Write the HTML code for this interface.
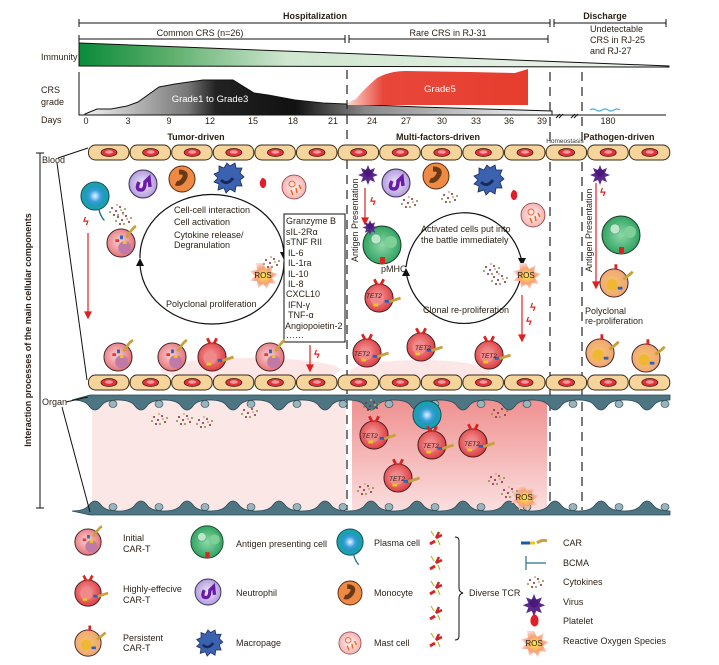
<!DOCTYPE html>
<html><head><meta charset="utf-8">
<style>
html,body{margin:0;padding:0;background:#fff;}
svg{display:block;font-family:"Liberation Sans",Arial,sans-serif;}
.t{font-size:9px;fill:#2a1f14;}
.b{font-weight:bold;}
</style></head>
<body>
<svg id="s" width="719" height="665" viewBox="0 0 719 665" xmlns="http://www.w3.org/2000/svg">
<defs>
<linearGradient id="gImm" x1="0" x2="1" y1="0" y2="0">
<stop offset="0" stop-color="#0a8a3a"/><stop offset="0.15" stop-color="#5aae6a"/><stop offset="0.35" stop-color="#cfe6cf"/><stop offset="1" stop-color="#eef6ee"/></linearGradient>
<linearGradient id="gGray" x1="0" x2="1" y1="0" y2="0">
<stop offset="0" stop-color="#f2f2f2"/><stop offset="0.22" stop-color="#777"/><stop offset="0.28" stop-color="#222"/><stop offset="0.45" stop-color="#111"/><stop offset="0.6" stop-color="#888"/><stop offset="1" stop-color="#fafafa"/></linearGradient>
<linearGradient id="gRed" x1="0" x2="1" y1="0" y2="0">
<stop offset="0" stop-color="#fbd9d2"/><stop offset="0.2" stop-color="#e8473a"/><stop offset="1" stop-color="#e63d2e"/></linearGradient>
<linearGradient id="gOrg2" x1="0" x2="0" y1="0" y2="1">
<stop offset="0" stop-color="#ef8f8f"/><stop offset="1" stop-color="#fbdede"/></linearGradient>
<radialGradient id="gCar" cx="0.45" cy="0.45" r="0.6"><stop offset="0" stop-color="#fbd0d0"/><stop offset="1" stop-color="#e06a72"/></radialGradient>
<radialGradient id="gHi" cx="0.45" cy="0.45" r="0.6"><stop offset="0" stop-color="#f9a0a0"/><stop offset="1" stop-color="#d9363a"/></radialGradient>
<radialGradient id="gPer" cx="0.45" cy="0.5" r="0.6"><stop offset="0" stop-color="#f6c56a"/><stop offset="1" stop-color="#eea177"/></radialGradient>
<radialGradient id="gApc" cx="0.5" cy="0.5" r="0.6"><stop offset="0" stop-color="#8ed8a8"/><stop offset="1" stop-color="#1e9a55"/></radialGradient>
<radialGradient id="gPl" cx="0.5" cy="0.5" r="0.6"><stop offset="0" stop-color="#e8f6ff"/><stop offset="0.5" stop-color="#3aa0e0"/><stop offset="1" stop-color="#1a8fa6"/></radialGradient>
<radialGradient id="gNeu" cx="0.5" cy="0.5" r="0.6"><stop offset="0" stop-color="#f0e8fa"/><stop offset="1" stop-color="#a68ed6"/></radialGradient>
<radialGradient id="gMast" cx="0.5" cy="0.5" r="0.6"><stop offset="0" stop-color="#fff4f2"/><stop offset="1" stop-color="#f2a6a6"/></radialGradient>
<radialGradient id="gRos" cx="0.5" cy="0.5" r="0.5"><stop offset="0" stop-color="#ffe840"/><stop offset="0.6" stop-color="#f6a07a"/><stop offset="1" stop-color="#fbd6d0"/></radialGradient>
<symbol id="car" viewBox="-16 -16 32 32" overflow="visible"><circle r="15" fill="url(#gCar)" stroke="#3a1a1a" stroke-width="1"/><circle cx="4" cy="5" r="7" fill="#c07aa8"/><rect x="-6" y="-4" width="4" height="3" fill="#e33"/><rect x="-1" y="-8" width="3" height="4" fill="#2f5fb8"/><rect x="2" y="-2" width="4" height="3" fill="#e8c81e"/><path d="M6 -6 q6 -10 10 -12" stroke="#c9a03a" stroke-width="3" fill="none"/></symbol>
<symbol id="hi" viewBox="-16 -16 32 32" overflow="visible"><circle r="15" fill="url(#gHi)" stroke="#3a1a1a" stroke-width="1"/><circle cx="-2" cy="1" r="7" fill="#f08a8a"/><path d="M-2 -14 l-3 -6 M2 -14 l3 -6" stroke="#d22" stroke-width="3"/><rect x="6" y="2" width="5" height="3" fill="#2f5fb8"/><rect x="-6" y="6" width="5" height="3" fill="#e8c81e"/><path d="M11 4 q6 -2 12 -4" stroke="#c9a03a" stroke-width="3" fill="none"/></symbol>
<symbol id="per" viewBox="-16 -16 32 32" overflow="visible"><circle r="15" fill="url(#gPer)" stroke="#3a1a1a" stroke-width="1"/><circle cx="-2" cy="2" r="6" fill="#f0b830"/><path d="M2 -14 l0 -6" stroke="#d22" stroke-width="3"/><rect x="4" y="4" width="5" height="3" fill="#2f5fb8"/><path d="M10 -4 q6 -4 10 -8" stroke="#c9a03a" stroke-width="3" fill="none"/></symbol>
<symbol id="apc" viewBox="-20 -20 40 40" overflow="visible"><circle r="19" fill="url(#gApc)" stroke="#1a3a22" stroke-width="1"/><circle cx="-6" cy="-6" r="5" fill="#bfe6cc" stroke="#4a6" stroke-width=".6"/><circle cx="9" cy="-3" r="6" fill="#7ecf98"/><rect x="-2" y="12" width="5" height="7" fill="#d22"/></symbol>
<symbol id="pla" viewBox="-16 -16 32 32" overflow="visible"><circle r="15" fill="#1aa0b0" stroke="#145" stroke-width="1"/><circle r="10" fill="url(#gPl)"/><path d="M4 14 q2 8 6 12" stroke="#1a6f88" stroke-width="1.5" fill="none"/></symbol>
<symbol id="neu" viewBox="-14 -14 28 28" overflow="visible"><circle r="14" fill="url(#gNeu)" stroke="#3a2a5a" stroke-width="1"/><path d="M-4 -2 q-4 8 2 8 q4 0 4 -8 l4 -4 l1 9" stroke="#6a1aa8" stroke-width="3.5" fill="none"/></symbol>
<symbol id="mono" viewBox="-13 -13 26 26" overflow="visible"><circle r="13" fill="#ee8a44" stroke="#5a2a10" stroke-width="1"/><path d="M-3 -7 q9 0 5 7 q-4 6 -8 4" stroke="#6a3a16" stroke-width="5" fill="none"/></symbol>
<symbol id="mac" viewBox="-16 -16 32 32" overflow="visible"><path d="M0 -15 l3 3 l5 -3 l1 5 l6 0 l-2 5 l4 4 l-4 3 l2 6 l-6 0 l-1 6 l-5 -3 l-4 4 l-2 -5 l-6 2 l1 -6 l-5 -2 l4 -4 l-4 -4 l5 -2 l0 -6 l5 2z" fill="#3a62b0" stroke="#1a2a58" stroke-width=".8"/><path d="M-6 2 q6 6 12 -2" stroke="#1a2a58" stroke-width="3" fill="none"/></symbol>
<symbol id="mast" viewBox="-13 -13 26 26" overflow="visible"><circle r="12" fill="url(#gMast)" stroke="#8a3a3a" stroke-width=".8"/><circle cx="-2" cy="-3" r="3" fill="none" stroke="#e86a3a"/><path d="M-3 3 l2 5 M2 1 l1 5 M5 -2 l2 4" stroke="#e86a1a" stroke-width="1.5"/></symbol>
<symbol id="vir" viewBox="-8 -8 16 16" overflow="visible"><path d="M0 -8 l2 5 l5 -2 l-2 5 l5 2 l-5 2 l2 5 l-5 -2 l-2 5 l-2 -5 l-5 2 l2 -5 l-5 -2 l5 -2 l-2 -5 l5 2z" fill="#5a2a8a"/><circle r="4" fill="#4a1a7a"/></symbol>
<symbol id="ros" viewBox="-14 -12 28 24" overflow="visible"><path d="M0 -12 l3 6 l7 -4 l-2 7 l7 2 l-6 4 l4 6 l-7 -1 l-2 6 l-4 -5 l-5 4 l-1 -7 l-7 0 l5 -5 l-5 -5 l7 -1 l-1 -7z" fill="url(#gRos)"/><text x="0" y="3" font-size="8" text-anchor="middle" fill="#222" font-family="Liberation Sans">ROS</text></symbol>
<symbol id="cyt" viewBox="-10 -8 20 16" overflow="visible"><g fill="#8a2a3a"><circle cx="-6" cy="-3" r="1"/><circle cx="-2" cy="0" r="1"/><circle cx="2" cy="-4" r="1"/><circle cx="5" cy="2" r="1"/><circle cx="-4" cy="4" r="1"/></g><g fill="#7a9a3a"><circle cx="0" cy="4" r="1"/><circle cx="7" cy="-2" r="1"/><circle cx="-8" cy="1" r="1"/></g><g fill="#c8b080"><circle cx="3" cy="-1" r="1"/><circle cx="-1" cy="-6" r="1"/></g></symbol>
<symbol id="tcr" viewBox="-8 -8 16 16" overflow="visible"><path d="M-6 6 l5 -3" stroke="#d22" stroke-width="3"/><path d="M0 0 l3 -6 M0 0 l6 -3" stroke="#c8282a" stroke-width="2.5"/><path d="M-2 -2 l-3 -5 M2 2 l2 5" stroke="#b9b92a" stroke-width="1.2"/></symbol>
</defs>

<!-- top brackets -->
<g stroke="#111" stroke-width="1" fill="none">
<path d="M79 23 H550 M79 19 v8 M550 19 v8 M554 23 H666 M554 19 v8 M666 19 v8"/>
<path d="M79 39 H345 M79 35 v8 M345 35 v8 M349 39 H548 M349 35 v8 M548 35 v8"/>
</g>
<text x="315" y="19" class="t b" text-anchor="middle" font-size="9">Hospitalization</text>
<text x="605" y="19" class="t b" text-anchor="middle">Discharge</text>
<text x="200" y="36" class="t" text-anchor="middle">Common CRS (n=26)</text>
<text x="448" y="36" class="t" text-anchor="middle">Rare CRS in RJ-31</text>
<text x="590" y="32" class="t">Undetectable</text>
<text x="590" y="43" class="t">CRS in RJ-25</text>
<text x="590" y="54" class="t">and RJ-27</text>

<!-- immunity -->
<path d="M79 43 L669 66 L669 67 L79 66 Z" fill="url(#gImm)" stroke="#111" stroke-width="1"/>
<text x="41" y="60" class="t">Immunity</text>

<!-- CRS graph -->
<path d="M79 72 V115 H666" stroke="#111" fill="none" stroke-width="1"/>
<path d="M85 114 L97 109 L111 109 L127 106 L138 102 L159 87 L175 84 L203 80 L233 80 L254 93 L268 95 L295 100 L323 103 L346 104 L420 107 L552 111 L552 115 L85 115Z" fill="url(#gGray)" stroke="#111" stroke-width="1"/>
<path d="M347 104 Q352 100 356 99 Q365 88 377 78 Q390 71 405 71 L470 72 L515 73 L528 69 L528 105 L347 105Z" fill="url(#gRed)"/>
<path d="M590 110 q3 -2 6 0 q3 2 6 0 q3 -2 6 0 q3 2 6 0 q3 -2 6 0" stroke="#4ab0e0" fill="none" stroke-width="1.2"/>
<text x="210" y="102" font-size="9.5" fill="#fff" text-anchor="middle">Grade1 to Grade3</text>
<text x="440" y="92" font-size="9.5" fill="#fff" text-anchor="middle">Grade5</text>
<text x="41" y="93" class="t">CRS</text>
<text x="41" y="105" class="t">grade</text>
<text x="41" y="123" class="t">Days</text>
<g class="t" text-anchor="middle">
<text x="86" y="124" class="t">0</text><text x="128" y="124" class="t">3</text><text x="169" y="124" class="t">9</text><text x="210" y="124" class="t">12</text><text x="253" y="124" class="t">15</text><text x="293" y="124" class="t">18</text><text x="333" y="124" class="t">21</text><text x="372" y="124" class="t">24</text><text x="406" y="124" class="t">27</text><text x="442" y="124" class="t">30</text><text x="476" y="124" class="t">33</text><text x="509" y="124" class="t">36</text><text x="542" y="124" class="t">39</text><text x="608" y="124" class="t">180</text>
</g>
<path d="M556 118 l4 -4 M559 118 l4 -4 M571 118 l4 -4 M574 118 l4 -4" stroke="#111" stroke-width="1"/>

<!-- dashed lines -->
<g stroke="#222" stroke-width="1.2" stroke-dasharray="9 6" fill="none">
<path d="M347 70 V510"/><path d="M550 72 V510"/><path d="M582 72 V510"/>
</g>

<text x="196" y="140" class="t b" text-anchor="middle">Tumor-driven</text>
<text x="438" y="140" class="t b" text-anchor="middle">Multi-factors-driven</text>
<text x="565" y="143" font-size="6.5" fill="#333" text-anchor="middle">Homeostasis</text>
<text x="619" y="140" class="t b" text-anchor="middle">Pathogen-driven</text>

<!-- organ areas -->
<rect x="92" y="398" width="254" height="112" rx="8" fill="#fbe8e6"/>
<rect x="352" y="398" width="195" height="112" fill="url(#gOrg2)"/>
<ellipse cx="250" cy="370" rx="90" ry="12" fill="#fbd6d6" opacity=".6"/>
<ellipse cx="420" cy="372" rx="70" ry="12" fill="#fbd6d6" opacity=".6"/>

<g id="vessels"></g>
<g id="endo"></g>

<!-- left labels -->
<path d="M40 153 V508 M36 153 h8 M36 508 h8" stroke="#111" fill="none"/>
<text transform="translate(31 330) rotate(-90)" text-anchor="middle" class="t b" font-size="9">Interaction processes  of the main cellular components</text>
<text x="42" y="163" class="t" font-size="8.5">Blood</text>
<text x="42" y="405" class="t" font-size="8.5">Organ</text>
<path d="M58 158 L88 148 M57 163 L87 380 M66 402 L88 397 M62 407 L90 512" stroke="#111" fill="none"/>

<!-- cycles -->
<g fill="none" stroke="#111" stroke-width="1.2">
<path d="M140 258 A72 62 0 0 1 284 255"/>
<path d="M284 262 A72 62 0 0 1 140 262"/>
<path d="M406 267 A59 63 0 0 1 522 262"/>
<path d="M522 272 A59 63 0 0 1 406 272"/>
</g>
<path d="M280 252 l4 8 l4 -8z M136 266 l4 -8 l4 8z M518 258 l4 8 l4 -8z M402 276 l4 -8 l4 8z" fill="#111"/>
<g class="t">
<text x="174" y="213">Cell-cell interaction</text>
<text x="174" y="225">Cell activation</text>
<text x="174" y="238">Cytokine release/</text>
<text x="174" y="248">Degranulation</text>
<text x="166" y="307">Polyclonal proliferation</text>
<text x="421" y="232">Activated cells put into</text>
<text x="421" y="243">the battle immediately</text>
<text x="423" y="313">Clonal re-proliferation</text>
<text x="381" y="272">pMHC</text>
<text x="585" y="314">Polyclonal</text>
<text x="585" y="324">re-proliferation</text>
<text transform="translate(358 262) rotate(-90)" font-size="9" fill="#2a1f14">Antigen Presentation</text>
<text transform="translate(592 272) rotate(-90)" font-size="9" fill="#2a1f14">Antigen Presentation</text>
</g>
<rect x="284" y="214" width="61" height="128" fill="#fff" stroke="#111"/>
<g class="t" font-size="8.5">
<text x="286" y="224">Granzyme B</text><text x="286" y="235">sIL-2Rα</text><text x="286" y="245">sTNF RII</text><text x="288" y="256">IL-6</text><text x="288" y="266">IL-1ra</text><text x="288" y="277">IL-10</text><text x="288" y="287">IL-8</text><text x="286" y="297">CXCL10</text><text x="288" y="308">IFN-γ</text><text x="288" y="318">TNF-α</text><text x="285" y="329">Angiopoietin-2</text><text x="286" y="338">……</text>
</g>

<!-- red arrows -->
<g stroke="#e02020" stroke-width="1.2" fill="#e02020">
<path d="M88 233 V314"/><path d="M85 312 l3 6 l3 -6z"/>
<path d="M365 188 V220"/><path d="M362 218 l3 6 l3 -6z"/>
<path d="M522 295 V337"/><path d="M519 335 l3 6 l3 -6z"/>
<path d="M596 183 V284"/><path d="M593 282 l3 6 l3 -6z"/>
<path d="M310 345 V367"/><path d="M307 365 l3 6 l3 -6z"/>
</g>
<g fill="#e02020" font-size="11" font-weight="bold">
<text x="83" y="225">ϟ</text><text x="370" y="205">ϟ</text><text x="530" y="311">ϟ</text><text x="526" y="325">ϟ</text><text x="600" y="196">ϟ</text><text x="314" y="358">ϟ</text>
</g>

<!-- cells in blood -->
<use href="#pla" x="80" y="181" width="30" height="30"/>
<use href="#neu" x="129" y="170" width="28" height="28"/>
<use href="#mono" x="169" y="166" width="26" height="26"/>
<use href="#mac" x="211" y="162" width="32" height="32"/>
<path d="M262 178 q5 0 4 7 q-2 5 -5 2 q-3 -4 1 -9z" fill="#e21d2a"/>
<use href="#mast" x="281" y="174" width="26" height="26"/>
<use href="#car" x="106" y="228" width="30" height="30"/>
<use href="#cyt" x="108" y="203" width="20" height="16"/><use href="#cyt" x="114" y="212" width="20" height="16"/>
<use href="#car" x="103" y="342" width="30" height="30"/>
<use href="#car" x="157" y="342" width="30" height="30"/>
<use href="#hi" x="197" y="342" width="30" height="30"/>
<use href="#car" x="255" y="342" width="30" height="30"/>
<use href="#ros" x="249" y="263" width="28" height="24"/>
<use href="#cyt" x="262" y="255" width="20" height="16"/>

<use href="#vir" x="360" y="165" width="16" height="16"/>
<use href="#neu" x="382" y="169" width="28" height="28"/>
<use href="#mono" x="423" y="163" width="26" height="26"/>
<use href="#mac" x="471" y="164" width="32" height="32"/>
<path d="M513 190 q5 0 4 7 q-2 5 -5 2 q-3 -4 1 -9z" fill="#e21d2a"/>
<use href="#mast" x="520" y="202" width="26" height="26"/>
<use href="#cyt" x="400" y="195" width="20" height="16"/><use href="#cyt" x="440" y="190" width="20" height="16"/>
<use href="#apc" x="362" y="225" width="40" height="40"/>
<use href="#vir" x="364" y="220" width="12" height="12"/>
<use href="#hi" x="364" y="283" width="30" height="30"/>
<use href="#ros" x="512" y="263" width="28" height="24"/>
<use href="#cyt" x="482" y="262" width="20" height="16"/><use href="#cyt" x="490" y="272" width="20" height="16"/>
<use href="#hi" x="352" y="338" width="30" height="30"/>
<use href="#hi" x="406" y="332" width="30" height="30"/>
<use href="#hi" x="474" y="340" width="30" height="30"/>

<use href="#vir" x="592" y="165" width="16" height="16"/>
<use href="#apc" x="601" y="215" width="40" height="40"/>
<use href="#per" x="599" y="268" width="30" height="30"/>
<use href="#per" x="585" y="338" width="30" height="30"/>
<use href="#per" x="631" y="343" width="30" height="30"/>

<!-- organ cells -->
<use href="#cyt" x="150" y="412" width="20" height="16"/><use href="#cyt" x="175" y="412" width="20" height="16"/><use href="#cyt" x="195" y="415" width="20" height="16"/><use href="#cyt" x="240" y="405" width="20" height="16"/>
<use href="#pla" x="412" y="400" width="30" height="30"/>
<use href="#hi" x="359" y="420" width="30" height="30"/>
<use href="#hi" x="417" y="430" width="30" height="30"/>
<use href="#hi" x="458" y="428" width="30" height="30"/>
<use href="#hi" x="383" y="463" width="30" height="30"/>
<g font-size="6.5" fill="#222" font-style="italic"><text x="366" y="298">TET2</text><text x="354" y="356">TET2</text><text x="415" y="350">TET2</text><text x="481" y="358">TET2</text><text x="362" y="438">TET2</text><text x="423" y="448">TET2</text><text x="464" y="446">TET2</text><text x="389" y="481">TET2</text></g>
<use href="#cyt" x="362" y="398" width="20" height="16"/><use href="#cyt" x="490" y="405" width="20" height="16"/><use href="#cyt" x="356" y="482" width="20" height="16"/><use href="#cyt" x="487" y="472" width="20" height="16"/><use href="#cyt" x="500" y="485" width="20" height="16"/>
<use href="#ros" x="510" y="485" width="28" height="24"/>

<!-- legend -->
<use href="#car" x="74" y="528" width="28" height="28"/>
<use href="#hi" x="74" y="579" width="28" height="28"/>
<use href="#per" x="74" y="629" width="28" height="28"/>
<use href="#apc" x="190" y="525" width="34" height="34"/>
<use href="#neu" x="195" y="579" width="26" height="26"/>
<use href="#mac" x="194" y="629" width="28" height="28"/>
<use href="#pla" x="336" y="528" width="28" height="28"/>
<use href="#mono" x="338" y="581" width="24" height="24"/>
<use href="#mast" x="338" y="631" width="24" height="24"/>
<g class="t">
<text x="123" y="541">Initial</text><text x="123" y="552">CAR-T</text>
<text x="123" y="592">Highly-effecive</text><text x="123" y="603">CAR-T</text>
<text x="123" y="641">Persistent</text><text x="123" y="651">CAR-T</text>
<text x="236" y="547">Antigen presenting cell</text>
<text x="236" y="596">Neutrophil</text>
<text x="236" y="646">Macropage</text>
<text x="374" y="546">Plasma cell</text>
<text x="374" y="596">Monocyte</text>
<text x="374" y="646">Mast cell</text>
<text x="469" y="596">Diverse TCR</text>
<text x="563" y="546">CAR</text><text x="563" y="566">BCMA</text><text x="563" y="585">Cytokines</text><text x="563" y="605">Virus</text><text x="563" y="624">Platelet</text><text x="563" y="644">Reactive Oxygen Species</text>
</g>
<use href="#tcr" x="428" y="530" width="16" height="16"/><use href="#tcr" x="428" y="555" width="16" height="16"/><use href="#tcr" x="428" y="580" width="16" height="16"/><use href="#tcr" x="428" y="605" width="16" height="16"/><use href="#tcr" x="428" y="632" width="16" height="16"/>
<path d="M455 537 q4 0 4 4 V588 q0 4 4 5 q-4 1 -4 5 V636 q0 4 -4 4" stroke="#111" fill="none"/>
<path d="M521 543 h9" stroke="#1a5aa8" stroke-width="3"/><path d="M530 543 h5" stroke="#e8c81e" stroke-width="3"/><path d="M537 543 q5 -4 10 -2" stroke="#c9a03a" stroke-width="3" fill="none"/>
<path d="M526 556 v14 M526 563 h20" stroke="#2a6f8a" stroke-width="1.2" fill="none"/>
<use href="#cyt" x="526" y="575" width="20" height="16"/>
<use href="#vir" x="525" y="594" width="18" height="18"/>
<path d="M534 614 q6 2 4 10 q-3 5 -7 0 q-2 -6 3 -10z" fill="#e21d2a"/>
<use href="#ros" x="520" y="631" width="28" height="24"/>
</svg>
<script>
(function(){
var NS="http://www.w3.org/2000/svg";
function el(p,n,a){var e=document.createElementNS(NS,n);for(var k in a)e.setAttribute(k,a[k]);p.appendChild(e);return e;}
var v=document.getElementById("vessels");
[145,375].forEach(function(y){
 for(var i=0;i<14;i++){var x=88+i*41.6;
  el(v,"rect",{x:x+0.5,y:y,width:40.5,height:15,rx:7,fill:"#f6d59c",stroke:"#3a2a14","stroke-width":1});
  el(v,"ellipse",{cx:x+21,cy:y+7.5,rx:8,ry:4,fill:"#e5323a",stroke:"#3a1a10","stroke-width":0.8});
  el(v,"ellipse",{cx:x+21,cy:y+7,rx:4,ry:1.8,fill:"#f79a9a"});
 }});
var en=document.getElementById("endo");
var top="M90 395 ",bot="M90 514 ";
var xs=[];for(var x=90;x<670;x+=46)xs.push(x);
var d="M90 395 L670 395 L670 400 ";
for(var x=670;x>90;x-=46){var c=x-23;d+="L"+(x)+" 400 Q"+(c+10)+" 400 "+(c+6)+" 406 Q"+c+" 414 "+(c-6)+" 406 Q"+(c-10)+" 400 "+(x-46)+" 400 ";}
d+="Z";el(en,"path",{d:d,fill:"#4d7582",stroke:"#2a4a55","stroke-width":0.8});
var d2="M90 515 L670 515 L670 511 ";
for(var x=670;x>90;x-=46){var c=x-23;d2+="L"+x+" 511 Q"+(c+10)+" 511 "+(c+6)+" 505 Q"+c+" 497 "+(c-6)+" 505 Q"+(c-10)+" 511 "+(x-46)+" 511 ";}
d2+="Z";el(en,"path",{d:d2,fill:"#4d7582",stroke:"#2a4a55","stroke-width":0.8});
for(var x=90;x<670;x+=46){var c=x+23;
 el(en,"ellipse",{cx:c,cy:404,rx:4,ry:3.5,fill:"#9ab4bc",stroke:"#2a4a55","stroke-width":0.6});
 el(en,"ellipse",{cx:c,cy:507,rx:4,ry:3.5,fill:"#9ab4bc",stroke:"#2a4a55","stroke-width":0.6});}
})();
</script>
</body></html>
